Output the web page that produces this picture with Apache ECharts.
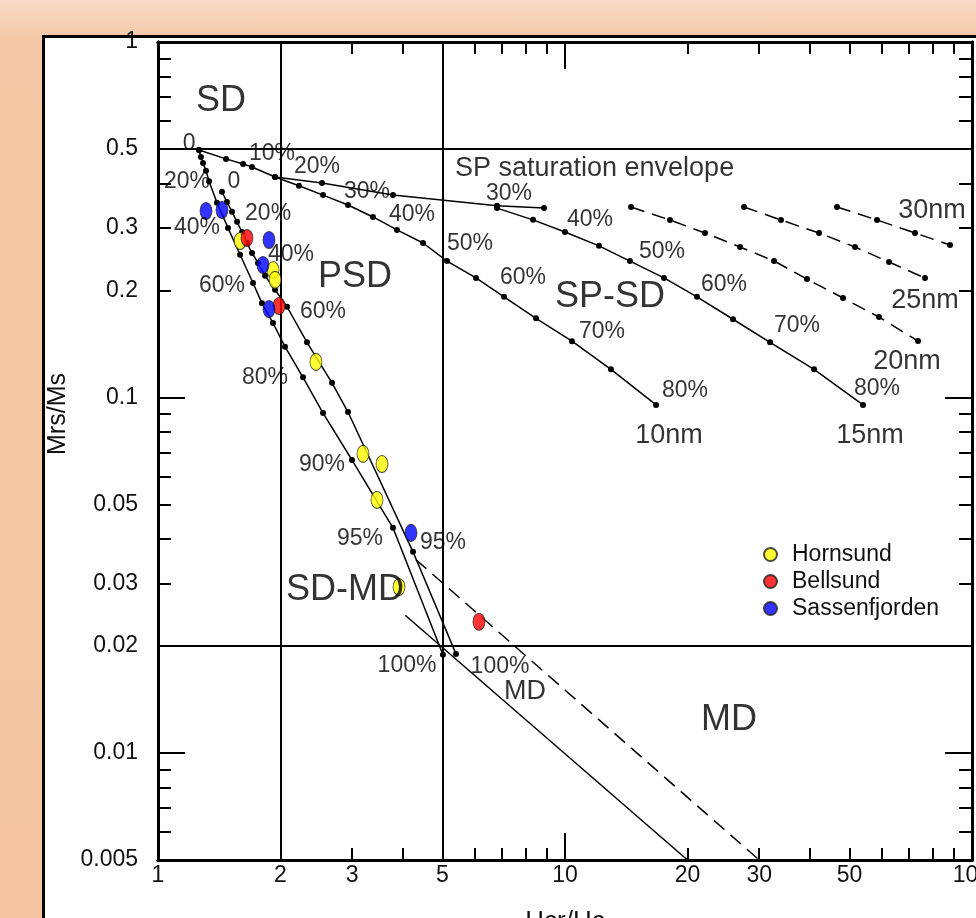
<!DOCTYPE html>
<html>
<head>
<meta charset="utf-8">
<script src="https://cdn.jsdelivr.net/npm/echarts@6/dist/echarts.min.js"></script>
<style>
html, body { margin: 0; padding: 0; }
#wrap { position: relative; width: 976px; height: 918px; overflow: hidden;
  background: linear-gradient(to bottom, #f8dcc7 0px, #f4c8a6 40px, #f4c4a0 100%); }
#box { position: absolute; left: 42px; top: 35px; width: 960px; height: 900px; background: #fff; border: 3px solid #000; }
#chart { position: absolute; left: 0; top: 0; width: 976px; height: 918px; }
</style>
</head>
<body>
<div id="wrap"><div id="box"></div><div id="chart"></div></div>
<script>
var FONT = '"Liberation Sans", Arial, sans-serif';

// axis ticks and labels
var xLabels = [1, 2, 3, 5, 10, 20, 30, 50, 100];
var yLabels = [0.005, 0.01, 0.02, 0.03, 0.05, 0.1, 0.2, 0.3, 0.5, 1];
var xMinorTicks = [2, 3, 4, 5, 6, 7, 8, 9, 20, 30, 40, 50, 60, 70, 80, 90];
var xMajorTicks = [10];
var yMinorTicks = [0.006, 0.007, 0.008, 0.009, 0.02, 0.03, 0.04, 0.05, 0.06, 0.07, 0.08, 0.09,
                   0.2, 0.3, 0.4, 0.5, 0.6, 0.7, 0.8, 0.9];
var yMajorTicks = [0.01, 0.1];

// domain boundaries (Day plot)
var hcrBounds = [2, 5];
var mrsBounds = [0.02, 0.5];

// SD + MD mixing curves  [Hcr/Hc, Mrs/Ms]
var sdmdLeft = [[1.261, 0.497], [1.275, 0.475], [1.290, 0.457], [1.312, 0.434], [1.335, 0.406],
  [1.396, 0.353], [1.486, 0.300], [1.591, 0.252], [1.712, 0.210], [1.801, 0.184], [1.917, 0.162],
  [2.051, 0.139], [2.271, 0.114], [2.544, 0.0904], [2.997, 0.0667], [3.779, 0.0430], [5.013, 0.0189]];
var sdmdRight = [[1.436, 0.379], [1.477, 0.355], [1.520, 0.333], [1.564, 0.312], [1.609, 0.292],
  [1.654, 0.272], [1.702, 0.255], [1.761, 0.239], [1.832, 0.220], [1.939, 0.201], [2.075, 0.180],
  [2.323, 0.143], [2.676, 0.110], [2.930, 0.091], [4.232, 0.0368], [5.397, 0.0190]];

// SP + SD mixing curves
var sp10nm = [[1.261, 0.497], [1.469, 0.469], [1.618, 0.454], [1.702, 0.445], [1.939, 0.417],
  [2.220, 0.394], [2.544, 0.371], [2.930, 0.348], [3.375, 0.322], [3.866, 0.296], [4.479, 0.272],
  [5.130, 0.242], [6.043, 0.217], [7.083, 0.192], [8.487, 0.167], [10.40, 0.144], [12.97, 0.120],
  [16.74, 0.0953]];
var spEnvelope = [[1.939, 0.417], [2.529, 0.401], [3.779, 0.371], [6.806, 0.346], [8.879, 0.341]];
var sp15nm = [[6.806, 0.341], [8.346, 0.316], [10.00, 0.292], [12.12, 0.267], [14.44, 0.242],
  [17.51, 0.217], [21.10, 0.192], [25.87, 0.166], [31.90, 0.143], [40.92, 0.120], [53.98, 0.0953]];
var sp20nm = [[14.53, 0.3435], [18.11, 0.3157], [22.08, 0.2902], [26.92, 0.2650], [32.63, 0.2421],
  [39.31, 0.2154], [48.20, 0.1905], [59.09, 0.1684], [73.68, 0.1441]];
var sp25nm = [[27.54, 0.3435], [33.94, 0.3157], [42.09, 0.2902], [51.59, 0.2650], [62.54, 0.2405],
  [76.64, 0.2168]];
var sp30nm = [[46.59, 0.3435], [58.43, 0.3157], [72.44, 0.2902], [88.30, 0.2685]];

// MD trend lines
var mdSolid = [[4.05, 0.0244], [20, 0.005]];
var mdDashed = [[4.3, 0.035], [30, 0.005]];

// samples
var hornsund = [[1.591, 0.2756], [1.917, 0.2284], [1.939, 0.2141], [2.444, 0.1259],
  [3.189, 0.0694], [3.551, 0.0650], [3.452, 0.0515], [3.910, 0.0293]];
var bellsund = [[1.654, 0.2810], [1.983, 0.1809], [6.147, 0.0234]];
var sassenfjorden = [[1.312, 0.3346], [1.436, 0.3368], [1.874, 0.2773], [1.811, 0.2359],
  [1.874, 0.1774], [4.184, 0.0416]];

// text annotations [Hcr/Hc, Mrs/Ms, text]
var regionLabels = [[1.428, 0.682, 'SD'], [3.048, 0.218, 'PSD'], [12.90, 0.1917, 'SP-SD'],
  [2.880, 0.0287, 'SD-MD'], [25.29, 0.01238, 'MD']];
var percentLabels = [
  [1.192, 0.516, '0'], [1.178, 0.406, '20%'], [1.247, 0.300, '40%'], [1.436, 0.206, '60%'],
  [1.832, 0.114, '80%'], [2.529, 0.0646, '90%'], [3.135, 0.0400, '95%'], [4.091, 0.01757, '100%'],
  [1.537, 0.404, '0'], [1.864, 0.330, '20%'], [2.122, 0.252, '40%'], [2.544, 0.174, '60%'],
  [5.013, 0.0390, '95%'], [6.923, 0.01746, '100%'],
  [1.906, 0.484, '10%'], [2.458, 0.445, '20%'], [3.263, 0.3785, '30%'], [4.208, 0.326, '40%'],
  [5.843, 0.270, '50%'], [7.884, 0.217, '60%'], [12.33, 0.153, '70%'], [19.72, 0.1043, '80%'],
  [7.287, 0.3736, '30%'], [11.52, 0.3157, '40%'], [17.31, 0.2566, '50%'], [24.58, 0.2073, '60%'],
  [37.15, 0.1589, '70%'], [58.43, 0.1057, '80%']];
var sizeLabels = [[18.01, 0.078, '10nm'], [56.16, 0.078, '15nm'], [69.24, 0.1259, '20nm'],
  [76.64, 0.1868, '25nm'], [79.74, 0.3346, '30nm'], [7.975, 0.01485, 'MD']];
var envelopeLabel = [[5.366, 0.4393, 'SP saturation envelope']];

function fmt(v) { return String(+(+v).toPrecision(6)); }

function xAxisDef(pos, ticks, len, labels) {
  return {
    type: 'log', logBase: 10, min: 1, max: 100, position: pos,
    axisLine: { show: true, onZero: false, lineStyle: { color: '#000', width: 3 } },
    axisTick: { show: true, inside: true, length: len, customValues: ticks, lineStyle: { color: '#000', width: 2 } },
    axisLabel: labels ? { show: true, customValues: labels, formatter: fmt, margin: 4,
      fontSize: 23, color: '#111', fontFamily: FONT } : { show: false },
    splitLine: { show: false }, minorTick: { show: false }
  };
}
function yAxisDef(pos, ticks, len, labels) {
  return {
    type: 'log', logBase: 10, min: 0.005, max: 1, position: pos,
    axisLine: { show: true, onZero: false, lineStyle: { color: '#000', width: 3 } },
    axisTick: { show: true, inside: true, length: len, customValues: ticks, lineStyle: { color: '#000', width: 2 } },
    axisLabel: labels ? { show: true, customValues: labels, formatter: fmt, margin: 20,
      fontSize: 23, color: '#111', fontFamily: FONT } : { show: false },
    splitLine: { show: false }, minorTick: { show: false }
  };
}

function curve(name, data, dashed, dots) {
  return {
    type: 'line', name: name, data: data, silent: true, z: 3,
    symbol: dots === false ? 'none' : 'circle', symbolSize: 6, showSymbol: true,
    itemStyle: { color: '#000' },
    lineStyle: { color: '#000', width: 1.5, type: dashed ? [14, 8] : 'solid' }
  };
}
function samples(name, data, color) {
  return {
    type: 'scatter', name: name, data: data, symbol: 'circle', symbolSize: [12, 17], z: 6,
    itemStyle: { color: color, borderColor: '#222', borderWidth: 1 }
  };
}
function textLayer(items, size, align) {
  return {
    type: 'scatter', silent: true, z: 10, symbolSize: 1,
    itemStyle: { color: 'rgba(0,0,0,0)' },
    data: items.map(function (d) { return { value: [d[0], d[1]], name: d[2] }; }),
    label: { show: true, position: 'inside', formatter: '{b}', fontSize: size, color: '#000',
      fontFamily: FONT, align: align || 'center', verticalAlign: 'middle' }
  };
}

var chart = echarts.init(document.getElementById('chart'));
var leftCurve = curve('sdmd1', sdmdLeft);
leftCurve.markLine = {
  silent: true, symbol: 'none', label: { show: false },
  lineStyle: { color: '#000', width: 2, type: 'solid' },
  data: hcrBounds.map(function (v) { return { xAxis: v }; })
    .concat(mrsBounds.map(function (v) { return { yAxis: v }; }))
};

chart.setOption({
  animation: false,
  grid: { left: 158, top: 42, right: 4, bottom: 58, outerBoundsMode: 'none', containLabel: false },
  xAxis: [
    xAxisDef('bottom', xMinorTicks, 12, xLabels),
    xAxisDef('top', xMinorTicks, 12, null),
    xAxisDef('bottom', xMajorTicks, 27, null),
    xAxisDef('top', xMajorTicks, 27, null)
  ],
  yAxis: [
    yAxisDef('left', yMinorTicks, 13, yLabels),
    yAxisDef('right', yMinorTicks, 13, null),
    yAxisDef('left', yMajorTicks, 27, null),
    yAxisDef('right', yMajorTicks, 27, null)
  ],
  legend: {
    orient: 'vertical', left: 758, top: 538, itemWidth: 13, itemHeight: 13, itemGap: 4,
    icon: 'circle', selectedMode: false,
    textStyle: { fontSize: 23, lineHeight: 23, color: '#111', fontFamily: FONT, padding: [0, 0, 0, 10] },
    data: ['Hornsund', 'Bellsund', 'Sassenfjorden']
  },
  graphic: [{
    type: 'text', x: 58, y: 414, rotation: Math.PI / 2,
    style: { text: 'Mrs/Ms', font: '25px "Liberation Sans", Arial, sans-serif', fill: '#111',
      textAlign: 'center', textVerticalAlign: 'middle' }
  }, {
    type: 'text', x: 565, y: 922,
    style: { text: 'Hcr/Hc', font: '26px "Liberation Sans", Arial, sans-serif', fill: '#111',
      textAlign: 'center', textVerticalAlign: 'middle' }
  }],
  series: [
    leftCurve,
    curve('sdmd2', sdmdRight),
    curve('10nm', sp10nm),
    curve('envelope', spEnvelope),
    curve('15nm', sp15nm),
    curve('20nm', sp20nm, true),
    curve('25nm', sp25nm, true),
    curve('30nm', sp30nm, true),
    curve('md', mdSolid, false, false),
    curve('md2', mdDashed, true, false),
    samples('Hornsund', hornsund, '#ffff00'),
    samples('Bellsund', bellsund, '#ff0000'),
    samples('Sassenfjorden', sassenfjorden, '#0000ff'),
    textLayer(regionLabels, 36),
    textLayer(percentLabels, 23),
    textLayer(sizeLabels, 27),
    textLayer(envelopeLabel, 27, 'left')
  ]
});
</script>
</body>
</html>
